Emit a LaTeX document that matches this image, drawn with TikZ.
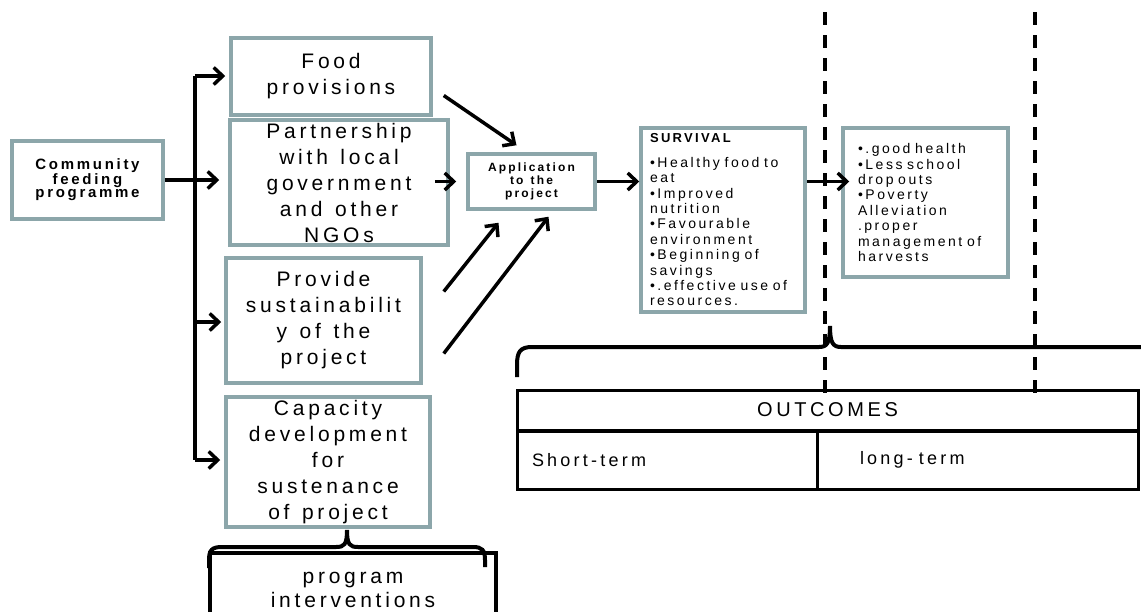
\documentclass[tikz,border=0pt]{standalone}
\usepackage{xcolor}
\usepackage{fontspec}
\setmainfont{Liberation Sans}[LetterSpace=18, WordSpace=1.3]
\usepackage{tikz}
\usetikzlibrary{arrows.meta}
\definecolor{boxline}{RGB}{140,166,170}

\begin{document}
\begin{tikzpicture}[
  x=1pt, y=-1pt,
  box/.style={rectangle, draw=boxline, line width=3.5pt, fill=white, align=center, inner sep=0pt, font=\fontsize{21}{26}\selectfont},
  smallbox/.style={box, font=\fontsize{15}{13}\selectfont\bfseries},
  listbox/.style={box, align=left, inner ysep=0pt, font=\fontsize{14}{15.4}\selectfont},
  cell/.style={rectangle, draw, line width=3pt, inner sep=0pt},
  arrow/.style={-{Straight Barb[length=9pt,width=17pt]}, line width=3.5pt},
  trunk/.style={line width=4pt},
  divider/.style={line width=4pt, dash pattern=on 13pt off 10pt},
  brace/.style={line width=4pt}
]
\useasboundingbox (0,0) rectangle (1141,611);

% Left: the programme
\node[smallbox, minimum width=151pt, minimum height=78pt] (comm) at (87.5,180) {Community\\feeding\\programme};

% Program interventions
\node[box, minimum width=200pt, minimum height=77pt] (food) at (331,76.5) {Food\\provisions};
\node[box, minimum width=218pt, minimum height=125pt] (partner) at (339,182.5) {Partnership\\with local\\government\\and other\\NGOs};
\node[box, minimum width=195pt, minimum height=125pt] (provide) at (323.5,320.5) {Provide\\sustainabilit\\y of the\\project};
\node[box, minimum width=204pt, minimum height=130pt] (capacity) at (328,462) {Capacity\\development\\for\\sustenance\\of project};

% Application
\node[smallbox, font=\fontsize{12}{13}\selectfont\bfseries, minimum width=127pt, minimum height=55pt] (app) at (531.5,181.5) {Application\\to the\\project};

% Short-term and long-term results
\node[listbox, text width=146pt, inner xsep=9pt, minimum height=184pt] (survival) at (723,220) {%
  {\fontsize{13}{13}\selectfont\bfseries SURVIVAL}\\[9pt]
  •Healthy food to\\eat\\•Improved\\nutrition\\•Favourable\\environment\\•Beginning of\\savings\\•.effective use of\\resources.};
\node[listbox, text width=135pt, inner xsep=15pt, minimum height=149pt] (results) at (925.5,202.5) {%
  •.good health\\•Less school\\drop outs\\•Poverty\\Alleviation\\.proper\\management of\\harvests};

% Outcomes table
\node[cell, minimum width=621pt, minimum height=40pt, font=\fontsize{20}{24}\selectfont] (outhead) at (827.5,410) {OUTCOMES};
\node[cell, minimum width=300pt, minimum height=58pt, text width=270pt, align=left, font=\fontsize{18}{20}\selectfont] (short) at (667,460) {Short-term};
\node[cell, minimum width=321pt, minimum height=58pt, text width=235pt, align=left, font=\fontsize{18}{20}\selectfont] (long) at (977.5,460) {long- term};

% Bottom label
\node[cell, line width=4pt, minimum width=286pt, minimum height=74pt, align=center, font=\fontsize{21}{24}\selectfont] (interv) at (353,590) {program\\interventions};

% Time dividers
\draw[divider] (825,12) -- (825,395);
\draw[divider] (1035,12) -- (1035,395);

% Braces
\draw[brace] (209,568) -- (209,560) .. controls (209,550) and (212,547) .. (222,547) -- (336,547)
  .. controls (344,547) and (347,545) .. (347,530) .. controls (347,545) and (350,547) .. (358,547)
  -- (473,547) .. controls (482,547) and (485,550) .. (485,560) -- (485,567);
\draw[brace] (517,377) -- (517,365) .. controls (517,352) and (520,347) .. (532,347) -- (819,347)
  .. controls (827,347) and (830,343) .. (830,326) .. controls (830,343) and (833,347) .. (841,347)
  -- (1145,347);

% Connections
\coordinate (t1) at (195,76);
\coordinate (t3) at (195,322);
\coordinate (t4) at (195,460);
\draw[trunk] (t1) -- (t4);
\draw[arrow, shorten >=4pt] (t1) -- (t1 -| food.west);
\draw[arrow, shorten >=9pt] (comm.east) -- (comm.east -| partner.west);
\draw[arrow, shorten >=3pt] (t3) -- (t3 -| provide.west);
\draw[arrow, shorten >=4pt] (t4) -- (t4 -| capacity.west);
\draw[arrow] ([shift={(11,19)}]food.east) -- ([shift={(-15,-7)}]app.north);
\draw[arrow] ([shift={(-15,-1)}]partner.east) -- ([shift={(-10,0)}]app.west);
\draw[arrow] ([shift={(21,-29)}]provide.east) -- ([shift={(-33,12)}]app.south);
\draw[arrow] ([shift={(21,33)}]provide.east) -- ([shift={(17,6)}]app.south);
\draw[arrow] (app.east) -- (app.east -| survival.west);
\draw[arrow, shorten >=-8pt] (app.east -| survival.east) -- (app.east -| results.west);

\end{tikzpicture}
\end{document}
